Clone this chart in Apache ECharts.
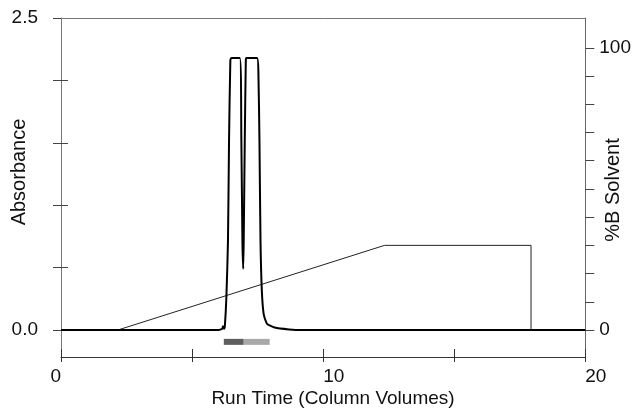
<!DOCTYPE html>
<html>
<head>
<meta charset="utf-8">
<script src="https://cdn.jsdelivr.net/npm/echarts@6/dist/echarts.min.js"></script>
<style>
html, body { margin: 0; padding: 0; background: #fff; }
#chart { width: 634px; height: 412px; }
</style>
</head>
<body>
<div id="chart"></div>
<script>
// absorbance trace (run time in column volumes, absorbance)
var absTime = [0, 2, 4, 5.5, 6.0, 6.15, 6.18, 6.22, 6.25, 6.31, 6.37, 6.41, 6.46, 6.5, 6.82, 6.88, 6.92, 6.95, 6.97, 7.01, 7.05, 7.07, 7.48, 7.53, 7.57, 7.61, 7.66, 7.73, 7.86, 8.15, 8.7, 9.2, 10, 12, 15, 20];
var absValue = [0, 0, 0, 0, 0, 0.01, 0.03, 0.01, 0.03, 0.27, 0.72, 1.52, 2.16, 2.18, 2.18, 1.52, 0.72, 0.49, 0.72, 1.52, 2.16, 2.18, 2.18, 2.06, 1.52, 0.72, 0.32, 0.13, 0.05, 0.02, 0.005, 0, 0, 0, 0, 0];
// gradient (%B solvent)
var gradTime = [0, 2.17, 12.34, 17.93, 17.93, 20];
var gradValue = [0, 0, 30, 30, 0, 0];
// collected fractions
var fracA = [6.21, 6.97];
var fracB = [6.97, 7.96];
var fracLevel = -0.095;
// ticks
var xTicks = [0, 5, 10, 15, 20];
var xLabels = [0, 10, 20];
var absTicks = [0, 0.5, 1, 1.5, 2, 2.5];
var absLabels = [0, 2.5];
var solvTicks = [0, 10, 20, 30, 40, 50, 60, 70, 80, 90, 100];
var solvLabels = [0, 100];

var FONT = '"Liberation Sans", Arial, sans-serif';
var absMin = -0.2163, absMax = 2.5;
var solvMin = -9.57, solvMax = 110.6;

function pairs(xs, ys) {
	return xs.map(function(x, i) { return [x, ys[i]]; });
}

var labelStyle = { fontFamily : FONT, fontSize : 19, color : '#111' };

var myChart = echarts.init(document.getElementById('chart'), null, { renderer: 'canvas' });
var option = {
	animation : false,
	backgroundColor : '#fff',
	grid : { left : 61, right : 48, top : 18, bottom : 55 },
	xAxis : [ {
		type : 'value', position : 'bottom', min : 0, max : 20,
		axisLine : { onZero : false, lineStyle : { color : '#333', width : 1 } },
		axisTick : { show : true, inside : false, length : 5, lineStyle : { color : '#333' }, customValues : xTicks },
		axisLabel : echarts.util.extend({
			customValues : xLabels, margin : 10,
			align : 'left', alignMinLabel : 'right', alignMaxLabel : 'left'
		}, labelStyle),
		splitLine : { show : false }
	}, {
		// inner half of the crossing ticks
		type : 'value', position : 'bottom', min : 0, max : 20,
		axisLine : { show : false, onZero : false },
		axisTick : { show : true, inside : true, length : 8, lineStyle : { color : '#333' }, customValues : xTicks },
		axisLabel : { show : false },
		splitLine : { show : false }
	}, {
		// top frame line
		type : 'value', position : 'top', min : 0, max : 20,
		axisLine : { onZero : false, lineStyle : { color : '#777' } },
		axisTick : { show : false }, axisLabel : { show : false }, splitLine : { show : false }
	} ],
	yAxis : [ {
		type : 'value', position : 'left', min : absMin, max : absMax,
		axisLine : { show : true, onZero : false, lineStyle : { color : '#777', width : 1 } },
		axisTick : { show : true, length : 8, lineStyle : { color : '#444' }, customValues : absTicks },
		axisLabel : echarts.util.extend({
			customValues : absLabels, margin : 23,
			formatter : function(v) { return v.toFixed(1); }
		}, labelStyle),
		splitLine : { show : false }
	}, {
		type : 'value', position : 'right', min : solvMin, max : solvMax,
		axisLine : { show : true, onZero : false, lineStyle : { color : '#666', width : 1 } },
		axisTick : { show : true, length : 9, lineStyle : { color : '#444' }, customValues : solvTicks },
		axisLabel : echarts.util.extend({ customValues : solvLabels, margin : 14 }, labelStyle),
		splitLine : { show : false }
	}, {
		// inner half of the crossing ticks on the left axis
		type : 'value', position : 'left', min : absMin, max : absMax,
		axisLine : { show : false, onZero : false },
		axisTick : { show : true, inside : true, length : 7, lineStyle : { color : '#444' }, customValues : absTicks.slice(1, 5) },
		axisLabel : { show : false },
		splitLine : { show : false }
	} ],
	graphic : [ {
		type : 'text', x : 19, y : 172, rotation : Math.PI / 2,
		style : { text : 'Absorbance', font : '20px ' + FONT, fill : '#111', align : 'center', verticalAlign : 'middle' }
	}, {
		type : 'text', x : 613, y : 190, rotation : Math.PI / 2,
		style : { text : '%B Solvent', font : '20px ' + FONT, fill : '#111', align : 'center', verticalAlign : 'middle' }
	}, {
		type : 'text', x : 333, y : 399,
		style : { text : 'Run Time (Column Volumes)', font : '19px ' + FONT, fill : '#111', align : 'center', verticalAlign : 'middle' }
	} ],
	series : [ {
		name : '%B',
		type : 'line', yAxisIndex : 1, symbol : 'none',
		lineStyle : { color : '#222', width : 1 },
		data : pairs(gradTime, gradValue), z : 2
	}, {
		name : 'Absorbance',
		type : 'line', yAxisIndex : 0, symbol : 'none', smooth : 0.2,
		lineStyle : { color : '#000', width : 2 },
		data : pairs(absTime, absValue), z : 3
	}, {
		name : 'Fraction 1',
		type : 'line', yAxisIndex : 0, symbol : 'none',
		lineStyle : { color : '#5e5e5e', width : 6, cap : 'butt' },
		data : pairs(fracA, [fracLevel, fracLevel])
	}, {
		name : 'Fraction 2',
		type : 'line', yAxisIndex : 0, symbol : 'none',
		lineStyle : { color : '#a9a9a9', width : 6, cap : 'butt' },
		data : pairs(fracB, [fracLevel, fracLevel])
	} ]
};
myChart.setOption(option);
</script>
</body>
</html>
